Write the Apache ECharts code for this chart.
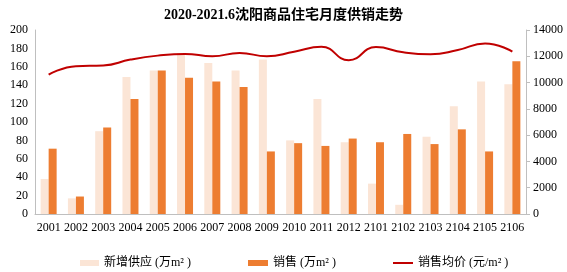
<!DOCTYPE html>
<html>
<head>
<meta charset="utf-8">
<script src="https://cdn.jsdelivr.net/npm/echarts@6/dist/echarts.min.js"></script>
<style>
html,body{margin:0;padding:0;background:#fff;}
#chart{width:567px;height:272px;}
</style>
</head>
<body>
<div id="chart"></div>
<script>
var months = ['2001','2002','2003','2004','2005','2006','2007','2008','2009','2010','2011','2012','2101','2102','2103','2104','2105','2106'];
var supply = [38, 17, 90, 149, 156, 175, 164, 156, 168, 80, 125, 78, 33, 10, 84, 117, 144, 141];
var sales = [71, 19, 94, 125, 156, 148, 144, 138, 68, 77, 74, 82, 78, 87, 76, 92, 68, 166];
var avgPrice = [10600, 11250, 11300, 11750, 12050, 12180, 12000, 12250, 12000, 12350, 12720, 11700, 12700, 12300, 12150, 12480, 12980, 12350];
var leftTicks = [0, 200, 20];
var rightTicks = [0, 14000, 2000];

var serif = '"Liberation Serif", "Noto Sans CJK SC", serif';
var legendText = {fontFamily: serif, fontSize: 12, color: '#000'};
var chart = echarts.init(document.getElementById('chart'));
var option = {
    animation: false,
    title: {
        text: '2020-2021.6沈阳商品住宅月度供销走势',
        left: 'center',
        top: 3,
        textStyle: {fontFamily: serif, fontSize: 14, fontWeight: 'bold', color: '#000'}
    },
    legend: [{
        left: 80, top: 257, padding: 0,
        itemWidth: 19, itemHeight: 6, icon: 'rect',
        textStyle: legendText,
        data: ['新增供应 (万m² )']
    }, {
        left: 248, top: 257, padding: 0,
        itemWidth: 20, itemHeight: 6, icon: 'rect',
        textStyle: legendText,
        data: ['销售 (万m² )']
    }, {
        left: 393, top: 257, padding: 0,
        itemWidth: 20, itemHeight: 2, icon: 'rect',
        textStyle: legendText,
        data: ['销售均价 (元/m² )']
    }],
    grid: {left: 35, right: 41, top: 30, bottom: 58},
    xAxis: {
        type: 'category',
        data: months,
        axisLine: {lineStyle: {color: '#bfbfbf'}},
        axisTick: {show: false},
        axisLabel: {fontFamily: serif, fontSize: 12, color: '#000', interval: 0, margin: 8}
    },
    yAxis: [{
        type: 'value',
        min: leftTicks[0], max: leftTicks[1], interval: leftTicks[2],
        splitLine: {show: false},
        axisLine: {show: true, lineStyle: {color: '#bfbfbf'}},
        axisTick: {show: false},
        axisLabel: {fontFamily: serif, fontSize: 12, color: '#000', margin: 7}
    }, {
        type: 'value',
        min: rightTicks[0], max: rightTicks[1], interval: rightTicks[2],
        splitLine: {show: false},
        axisLine: {show: true, lineStyle: {color: '#bfbfbf'}},
        axisTick: {show: true, length: 4, lineStyle: {color: '#bfbfbf'}},
        axisLabel: {fontFamily: serif, fontSize: 12, color: '#000', margin: 7,
            formatter: function (v) { return String(v); }}
    }],
    series: [{
        name: '新增供应 (万m² )',
        type: 'bar',
        data: supply,
        barWidth: 8,
        barGap: '0%',
        itemStyle: {color: '#FBE5D6'}
    }, {
        name: '销售 (万m² )',
        type: 'bar',
        data: sales,
        barWidth: 8,
        itemStyle: {color: '#ED7D31'}
    }, {
        name: '销售均价 (元/m² )',
        type: 'line',
        yAxisIndex: 1,
        data: avgPrice,
        smooth: true,
        symbol: 'none',
        lineStyle: {color: '#C00000', width: 2},
        itemStyle: {color: '#C00000'}
    }]
};
chart.setOption(option);
</script>
</body>
</html>
